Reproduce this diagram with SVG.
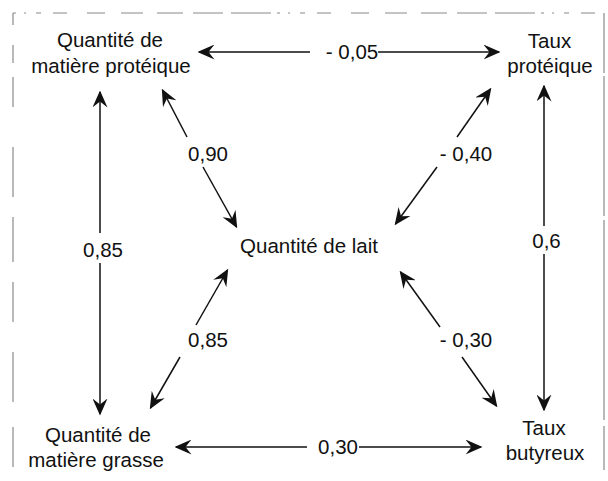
<svg xmlns="http://www.w3.org/2000/svg" width="608" height="481" viewBox="0 0 608 481">
  <style>
    .node { font-family: "Liberation Sans", Arial, sans-serif; font-size: 20.5px; fill: #111; text-anchor: middle; }
    .lbl { font-family: "Liberation Sans", Arial, sans-serif; font-size: 20.5px; fill: #111; text-anchor: middle; }
    .edge { stroke: #111; stroke-width: 1.5; fill: none; }
    .frame { stroke: #8a8a8a; stroke-width: 1.2; fill: none; }
  </style>
  <defs>
    <!-- barbed filled arrowhead, tip at the line end -->
    <marker id="head" viewBox="0 0 17 15" markerWidth="17" markerHeight="15" refX="15.5" refY="7.5" orient="auto-start-reverse" markerUnits="userSpaceOnUse">
      <path d="M17,7.5 L0,0 L6,7.5 L0,15 Z" fill="#111"/>
    </marker>
  </defs>

  <rect width="608" height="481" fill="#ffffff"/>

  <!-- broken frame lines -->
  <g id="frame">
    <path class="frame" d="M13,13 H604" stroke-dasharray="3 8 2 10 5 12 14 20 18 16 22 14 26 10 30 8 40 6"/>
    <path class="frame" d="M13,13 V470" stroke-dasharray="12 20 18 14 30 40 50 20 45 20 40 30 50 25 40 30"/>
    <path class="frame" d="M604,13 V470" stroke-dasharray="60 3 140 4 200 6 60"/>
  </g>

  <!-- connectors -->
  <g id="connectors">
    <!-- top: Quantité de matière protéique <-> Taux protéique -->
    <line class="edge" x1="310" y1="52" x2="199" y2="52" marker-end="url(#head)"/>
    <line class="edge" x1="378" y1="52" x2="499" y2="52" marker-end="url(#head)"/>
    <!-- bottom: matière grasse <-> Taux butyreux -->
    <line class="edge" x1="307" y1="447" x2="176" y2="447" marker-end="url(#head)"/>
    <line class="edge" x1="359" y1="447" x2="481" y2="447" marker-end="url(#head)"/>
    <!-- left vertical -->
    <line class="edge" x1="100" y1="233" x2="100" y2="92" marker-end="url(#head)"/>
    <line class="edge" x1="100" y1="263" x2="100" y2="414" marker-end="url(#head)"/>
    <!-- right vertical -->
    <line class="edge" x1="544" y1="226" x2="544" y2="86" marker-end="url(#head)"/>
    <line class="edge" x1="544" y1="254" x2="544" y2="410" marker-end="url(#head)"/>
    <!-- upper-left diagonal -->
    <line class="edge" x1="187" y1="137" x2="162.5" y2="90" marker-end="url(#head)"/>
    <line class="edge" x1="203" y1="167" x2="236.5" y2="227" marker-end="url(#head)"/>
    <!-- upper-right diagonal -->
    <line class="edge" x1="457" y1="137" x2="490.5" y2="89" marker-end="url(#head)"/>
    <line class="edge" x1="437" y1="167" x2="395.5" y2="224" marker-end="url(#head)"/>
    <!-- lower-left diagonal -->
    <line class="edge" x1="196" y1="325" x2="227.5" y2="270" marker-end="url(#head)"/>
    <line class="edge" x1="180" y1="357" x2="150.5" y2="408" marker-end="url(#head)"/>
    <!-- lower-right diagonal -->
    <line class="edge" x1="440" y1="327" x2="400.5" y2="272" marker-end="url(#head)"/>
    <line class="edge" x1="462" y1="357" x2="496.5" y2="406" marker-end="url(#head)"/>
  </g>

  <!-- correlation labels -->
  <g id="labels">
    <text class="lbl" x="352" y="59">- 0,05</text>
    <text class="lbl" x="338" y="454">0,30</text>
    <text class="lbl" x="103" y="257">0,85</text>
    <text class="lbl" x="546.5" y="248">0,6</text>
    <text class="lbl" x="208" y="161">0,90</text>
    <text class="lbl" x="466" y="161">- 0,40</text>
    <text class="lbl" x="208" y="347">0,85</text>
    <text class="lbl" x="466" y="347">- 0,30</text>
  </g>

  <!-- nodes -->
  <g id="node-mp">
    <text class="node" x="110" y="47">Quantité de</text>
    <text class="node" x="111" y="73">matière protéique</text>
  </g>
  <g id="node-tp">
    <text class="node" x="549.5" y="48">Taux</text>
    <text class="node" x="550" y="73">protéique</text>
  </g>
  <g id="node-lait">
    <text class="node" x="309" y="253">Quantité de lait</text>
  </g>
  <g id="node-mg">
    <text class="node" x="98" y="442">Quantité de</text>
    <text class="node" x="96" y="467">matière grasse</text>
  </g>
  <g id="node-tb">
    <text class="node" x="544" y="435">Taux</text>
    <text class="node" x="545" y="460">butyreux</text>
  </g>
</svg>
